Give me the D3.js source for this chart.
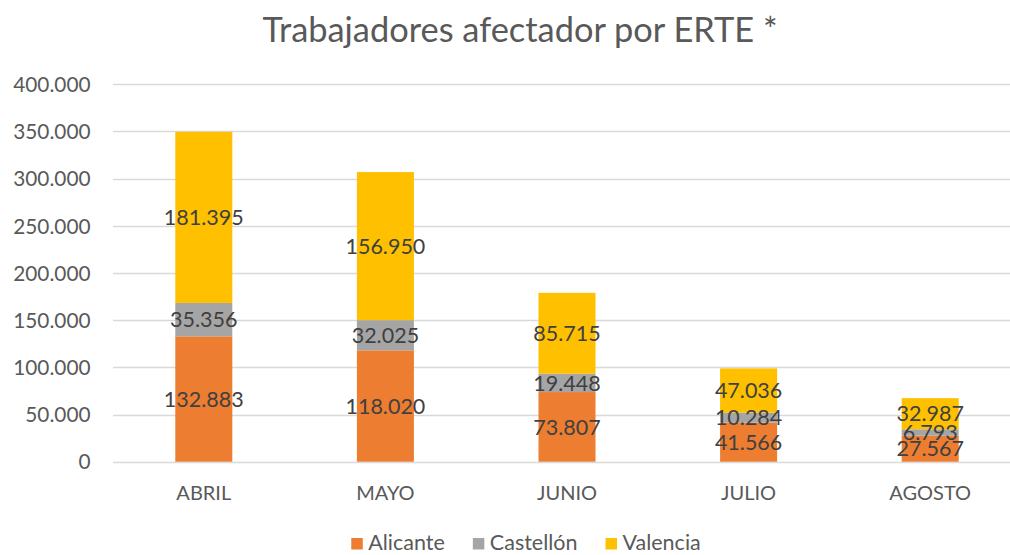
<!DOCTYPE html>
<html><head><meta charset="utf-8">
<script src="https://cdn.jsdelivr.net/npm/d3@7"></script>
<style>
html,body{margin:0;padding:0;background:#fff;}
svg{display:block;font-family:Lato,"Open Sans",sans-serif;}
</style></head>
<body>
<svg id="chart" width="1010" height="555"></svg>
<script>
const categories = ["ABRIL","MAYO","JUNIO","JULIO","AGOSTO"];
const seriesNames = ["Alicante","Castellón","Valencia"];
const alicante = [132883,118020,73807,41566,27567];
const castellon = [35356,32025,19448,10284,6793];
const valencia = [181395,156950,85715,47036,32987];
const yTicks = [0,50000,100000,150000,200000,250000,300000,350000,400000];
const colors = ["#ED7D31","#A5A5A5","#FFC000"];
const title = "Trabajadores afectador por ERTE *";

const W = 1010, H = 555;
const svg = d3.select("#chart");
const loc = d3.formatLocale({decimal:",", thousands:".", grouping:[3], currency:["","€"]});
const fmt = loc.format(",d");

const x = d3.scaleBand().domain(categories).range([113,1021]).paddingInner(0.686).paddingOuter(0.343);
const y = d3.scaleLinear().domain([0,400000]).range([461.7,84.3]);

const rows = categories.map((c,i)=>({cat:c, Alicante:alicante[i], "Castellón":castellon[i], Valencia:valencia[i]}));
const stacked = d3.stack().keys(seriesNames)(rows);

// title
svg.append("text").attr("x",520).attr("y",42).attr("text-anchor","middle")
  .attr("fill","#595959").style("font-size","34.4px").text(title);

// gridlines
svg.append("g").selectAll("line").data(yTicks).join("line")
  .attr("x1",113).attr("x2",W).attr("y1",d=>Math.round(y(d))+0.5).attr("y2",d=>Math.round(y(d))+0.5)
  .attr("stroke","#D9D9D9").attr("stroke-width",1.3);

// y axis labels
const yAxis = d3.axisLeft(y).tickValues(yTicks).tickFormat(d=>d===0?"0":loc.format(",.0f")(d)).tickSize(0).tickPadding(0);
const gy = svg.append("g").attr("transform","translate(90.5,0)").call(yAxis);
gy.select(".domain").remove();
gy.selectAll("text").attr("fill","#595959").style("font-size","20.8px").style("font-family","Lato,'Open Sans',sans-serif").attr("dy","0.35em");

// bars
const layers = svg.append("g").selectAll("g").data(stacked).join("g").attr("fill",(d,i)=>colors[i]);
layers.selectAll("rect").data(d=>d).join("rect")
  .attr("x",d=>x(d.data.cat)).attr("width",x.bandwidth())
  .attr("y",d=>y(d[1])).attr("height",d=>y(d[0])-y(d[1]));

// data labels
const lab = svg.append("g");
stacked.forEach(s=>{
  lab.selectAll(null).data(s).join("text")
    .attr("x",d=>x(d.data.cat)+x.bandwidth()/2)
    .attr("y",d=>(y(d[0])+y(d[1]))/2)
    .attr("dy","0.36em").attr("text-anchor","middle")
    .attr("fill","#404040").style("font-size","21.5px")
    .text(d=>fmt(d[1]-d[0]));
});

// x axis labels
const xAxis = d3.axisBottom(x).tickSize(0).tickPadding(0);
const gx = svg.append("g").attr("transform","translate(0,500)").call(xAxis);
gx.select(".domain").remove();
gx.selectAll("text").attr("fill","#595959").attr("dy","0").style("font-size","20px").style("font-family","Lato,'Open Sans',sans-serif");

// legend
const leg = svg.append("g");
const items = seriesNames.map((n,i)=>{
  const g = leg.append("g");
  g.append("rect").attr("width",11.5).attr("height",11.5).attr("y",-12).attr("fill",colors[i]);
  const t = g.append("text").attr("x",17).attr("y",0).attr("fill","#595959").style("font-size","21.5px").text(n);
  return {g, w:17+t.node().getComputedTextLength()};
});
const gap = 28;
const total = d3.sum(items,d=>d.w)+gap*(items.length-1);
let cx = 526 - total/2;
items.forEach(it=>{ it.g.attr("transform",`translate(${cx},550)`); cx += it.w+gap; });
</script>
</body></html>
